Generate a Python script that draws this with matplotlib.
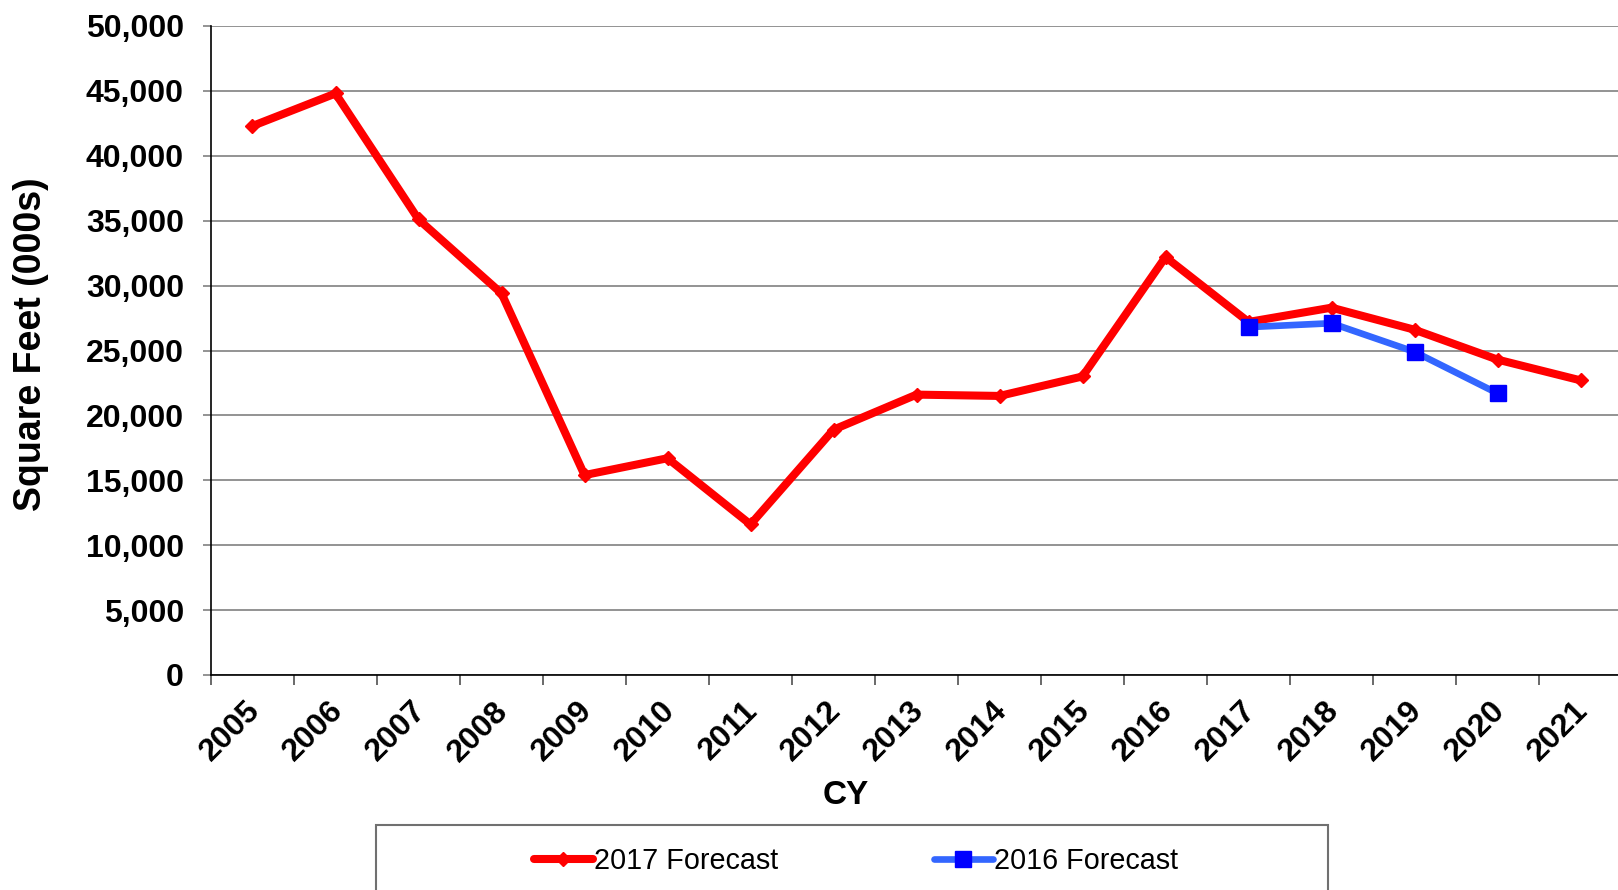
import matplotlib
matplotlib.use("Agg")
import matplotlib.pyplot as plt
from matplotlib.patches import Rectangle
from matplotlib.ticker import FuncFormatter, FixedLocator
from matplotlib.transforms import ScaledTranslation
import numpy as np

years = ["2005", "2006", "2007", "2008", "2009", "2010", "2011", "2012", "2013",
         "2014", "2015", "2016", "2017", "2018", "2019", "2020", "2021"]
forecast_2017 = [42300, 44800, 35100, 29400, 15400, 16700, 11600, 18900, 21600,
                 21500, 23000, 32200, 27200, 28300, 26600, 24300, 22700]
forecast_2016_years = ["2017", "2018", "2019", "2020"]
forecast_2016 = [26800, 27100, 24900, 21700]
y_ticks = [0, 5000, 10000, 15000, 20000, 25000, 30000, 35000, 40000, 45000, 50000]

plt.rcParams['font.family'] = ['Liberation Sans', 'DejaVu Sans']

fig = plt.figure(figsize=(16.18, 8.90), dpi=100)
ax = fig.add_axes([211/1618, 1 - 675/890, 1411/1618, 649/890])

x = np.arange(len(years))
x16 = [years.index(y) for y in forecast_2016_years]

ax.plot(x, forecast_2017, color='#FF0000', lw=5.8, marker='D', ms=7.5,
        mfc='#FF0000', mec='#FF0000', label='2017 Forecast', zorder=3,
        solid_joinstyle='miter', solid_capstyle='round')
ax.plot(x16, forecast_2016, color='#3366FF', lw=4.8, marker='s', ms=11,
        mfc='#0000FF', mec='#0000FF', label='2016 Forecast', zorder=4,
        solid_capstyle='round')

ax.set_xlim(-0.5, len(years) - 0.5)
ax.set_ylim(0, 50000)
ax.set_yticks(y_ticks)
ax.yaxis.set_major_formatter(FuncFormatter(lambda v, p: f"{int(v):,}"))
ax.grid(axis='y', color='#808080', lw=1.2)
ax.set_axisbelow(True)

for s in ['top', 'right']:
    ax.spines[s].set_visible(False)
ax.spines['left'].set_color('black')
ax.spines['bottom'].set_color('black')
ax.spines['left'].set_linewidth(1.2)
ax.spines['bottom'].set_linewidth(1.2)

ax.tick_params(axis='y', direction='out', length=6, width=1.2, color='#808080',
               pad=13.5, labelsize=23)
for lab in ax.get_yticklabels():
    lab.set_fontweight('bold')

ax.set_xticks(x)
ax.set_xticklabels(years, rotation=45, ha='right', va='top',
                   rotation_mode='anchor', fontsize=23, fontweight='bold')
ax.tick_params(axis='x', which='major', length=0, pad=15)
shift = ScaledTranslation(-8/100, 0, fig.dpi_scale_trans)
for lab in ax.get_xticklabels():
    lab.set_transform(lab.get_transform() + shift)
ax.xaxis.set_minor_locator(FixedLocator(np.arange(-0.5, len(years), 1.0)))
ax.tick_params(axis='x', which='minor', length=7, width=1.2, color='#505050',
               direction='out')

ax.set_ylabel("Square Feet (000s)", fontsize=27, fontweight='bold')
ax.yaxis.set_label_coords((49 - 211) / 1411, 0.51)
ax.set_xlabel("CY", fontsize=24, fontweight='bold')
ax.xaxis.set_label_coords((846 - 211) / 1411, (675 - 780) / 649)

# legend frame (extends beyond the bottom edge)
fig.patches.append(Rectangle((376/1618, -0.05), (1328-376)/1618, 1 - 825/890 + 0.05,
                             transform=fig.transFigure, fill=False,
                             edgecolor='#707070', lw=1.5))
leg = fig.legend(loc='center', bbox_to_anchor=(856/1618, 1 - 861/890), ncol=2,
                 frameon=False, fontsize=20.7, columnspacing=5.4,
                 handlelength=2.05, handletextpad=0.05)

fig.savefig("out.png", dpi=100)
